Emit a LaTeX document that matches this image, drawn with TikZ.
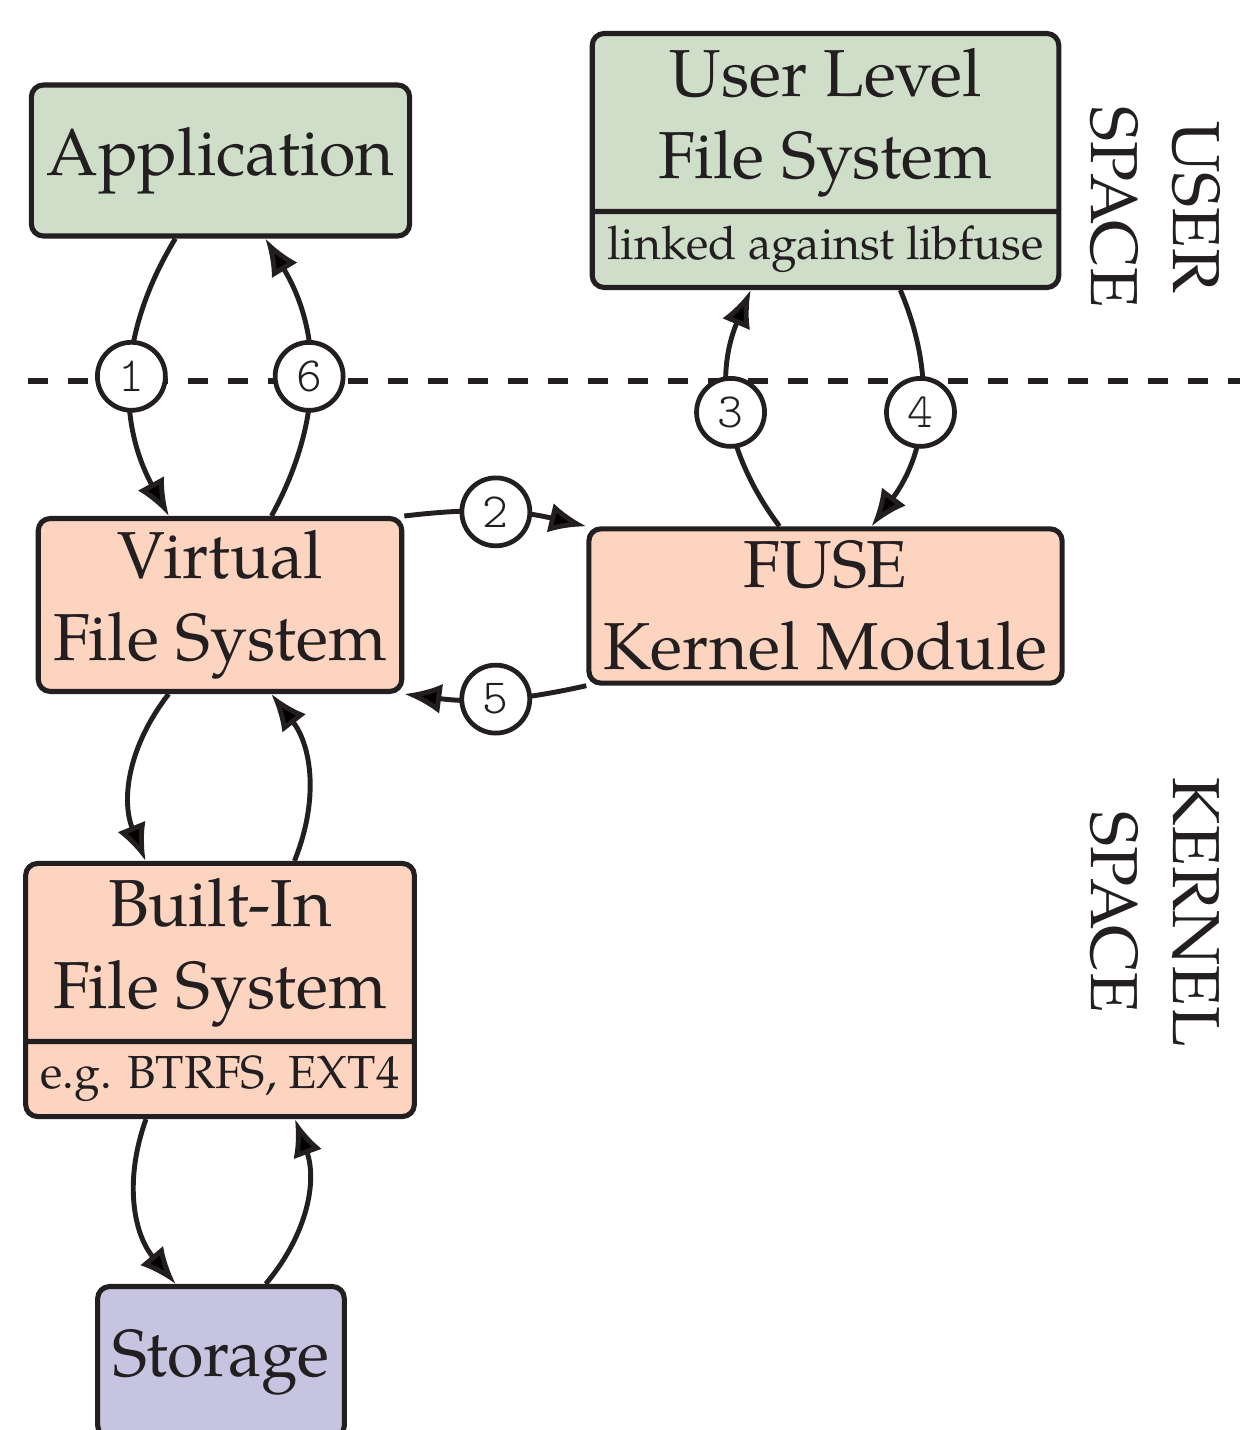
\documentclass[tikz,border=0pt]{standalone}
\usepackage{fontspec}
\setmainfont{TeX Gyre Pagella}
\newfontfamily\numfont{Latin Modern Mono Light}
\usetikzlibrary{arrows.meta, shapes.multipart}

\definecolor{userfill}{RGB}{207,222,200}
\definecolor{kernfill}{RGB}{252,212,192}
\definecolor{diskfill}{RGB}{198,196,225}
\definecolor{ink}{RGB}{35,31,32}

\newcommand{\boxfont}{\fontsize{18.9}{23.3}\selectfont}
\newcommand{\notefont}{\fontsize{13.2}{16}\selectfont}

\begin{document}
\begin{tikzpicture}[
        box/.style={draw=ink, line width=1.45pt, rounded corners=0.12cm, inner xsep=0.15cm, inner ysep=0.12cm, align=center, font=\boxfont, text=ink},
        splitbox/.style={box, rectangle split, rectangle split parts=2},
        num/.style={circle, draw=ink, fill=white, line width=1.35pt, minimum size=0.68cm, inner sep=0pt, font=\fontsize{14}{14}\selectfont\numfont, text=ink},
        flow/.style={draw=ink, line width=1.4pt, -{Latex[length=3.7mm, width=3mm]}},
        side/.style={rotate=-90, align=center, font=\boxfont, text=ink}
    ]
        \useasboundingbox (0,0) rectangle (12.4,-14.3);
        \coordinate (lineleft) at (0.28,-3.81);
        \coordinate (lineright) at (12.4,-3.81);
        \draw[ink, line width=1.5pt, dash pattern=on 0.2cm off 0.2cm] (lineleft) -- (lineright);

        \node[box, fill=userfill, minimum height=1.51cm] (app) at (2.205,-1.605) {Application};
        \node[splitbox, fill=userfill] (ulfs) at (8.255,-1.605) {User Level\\File System \nodepart{two}\notefont linked against libfuse};
        \node[box, fill=kernfill] (vfs) at (2.20,-6.05) {Virtual\\File System};
        \node[box, fill=kernfill] (fuse) at (8.255,-6.06) {FUSE\\Kernel Module};
        \node[splitbox, fill=kernfill] (bifs) at (2.20,-9.90) {Built-In\\File System \nodepart{two}\notefont e.g. BTRFS, EXT4};
        \node[box, fill=diskfill, minimum height=1.51cm] (disk) at (2.21,-13.62) {Storage};

        \node[side] (userlbl) at (11.55,-2.07) {USER\\SPACE};
        \node[side] (kernlbl) at (11.55,-9.12) {KERNEL\\SPACE};

        \draw[flow] (app) to[bend right=30] node[num] {1} (vfs);
        \draw[flow] (vfs) to[bend right=30] node[num] {6} (app);
        \draw[flow] (vfs.north east) to[bend left=10] node[num] {2} (fuse.north west);
        \draw[flow] (fuse.south west) to[bend left=10] node[num] {5} (vfs.south east);
        \draw[flow] (fuse) to[bend left=30] node[num] {3} (ulfs);
        \draw[flow] (ulfs) to[bend left=30] node[num] {4} (fuse);
        \draw[flow] (vfs) to[bend right=30] (bifs);
        \draw[flow] (bifs) to[bend right=30] (vfs);
        \draw[flow] (bifs) to[bend right=30] (disk);
        \draw[flow] (disk) to[bend right=30] (bifs);
    \end{tikzpicture}
\end{document}
